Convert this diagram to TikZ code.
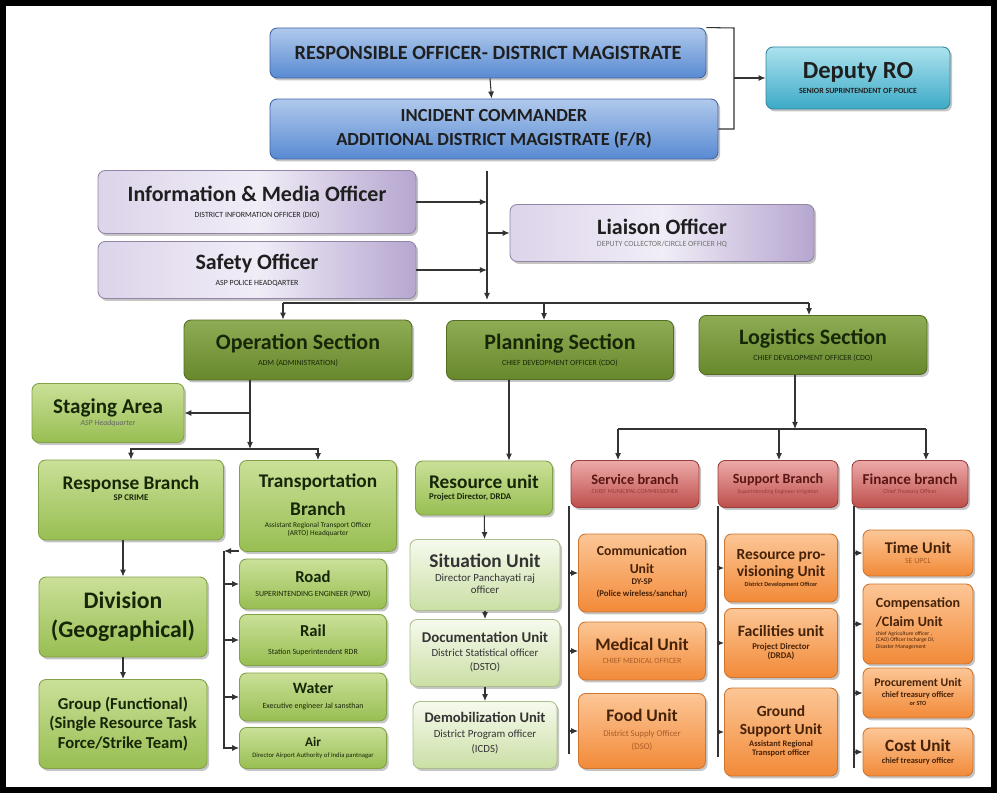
\documentclass[tikz,border=0pt]{standalone}
\usepackage{fontspec}
\setmainfont{Carlito}
\usetikzlibrary{arrows.meta, shadows, calc}
\definecolor{roblue}{RGB}{88,138,210}
\definecolor{roblueL}{RGB}{176,201,236}
\definecolor{roborder}{RGB}{62,100,168}
\definecolor{tealD}{RGB}{60,170,198}
\definecolor{tealL}{RGB}{172,226,238}
\definecolor{lilacD}{RGB}{182,166,208}
\definecolor{lilacL}{RGB}{220,212,234}
\definecolor{lilacM}{RGB}{241,237,247}
\definecolor{sectD}{RGB}{104,136,44}
\definecolor{sectL}{RGB}{142,172,84}
\definecolor{leafD}{RGB}{152,190,82}
\definecolor{leafL}{RGB}{202,224,152}
\definecolor{paleD}{RGB}{202,223,164}
\definecolor{paleL}{RGB}{246,250,238}
\definecolor{redD}{RGB}{190,78,75}
\definecolor{redL}{RGB}{236,170,168}
\definecolor{orgD}{RGB}{242,138,56}
\definecolor{orgL}{RGB}{252,198,150}
\definecolor{txtgreen}{RGB}{24,38,8}
\definecolor{txtred}{RGB}{90,22,20}
\definecolor{txtorg}{RGB}{70,34,8}
\definecolor{subred}{RGB}{150,60,56}
\definecolor{suborg}{RGB}{170,92,40}
\newcommand{\fsz}[2]{\fontsize{#1}{#2}\selectfont}
\newcommand{\subl}[4][c]{{\fontsize{#2}{#3}\selectfont\begin{tabular}[t]{@{}#1@{}}#4\end{tabular}}}

\begin{document}
\begin{tikzpicture}[
  x=0.02cm, y=-0.02cm,
  cbox/.style={rounded corners=4pt, align=center, inner sep=1.5pt, font=\bfseries, text=black!88, line width=0.5pt,
    drop shadow={shadow xshift=1.2pt, shadow yshift=-1.4pt, opacity=0.45}},
  bluebox/.style={cbox, draw=roborder, top color=roblueL, bottom color=roblue},
  tealbox/.style={cbox, draw=tealD!80!black, top color=tealL, bottom color=tealD},
  lilacbox/.style={cbox, draw=lilacD!80!black, left color=lilacL, right color=lilacD, middle color=lilacM},
  sectbox/.style={cbox, draw=sectD!80!black, top color=sectL, bottom color=sectD, text=txtgreen},
  leafbox/.style={cbox, draw=leafD!85!black, top color=leafL, bottom color=leafD, text=txtgreen},
  palebox/.style={cbox, draw=paleD!85!black, top color=paleL, bottom color=paleD, text=black!80},
  redbox/.style={cbox, draw=redD!80!black, top color=redL, bottom color=redD, text=txtred},
  orgbox/.style={cbox, draw=orgD!85!black, top color=orgL, bottom color=orgD, text=txtorg},
  link/.style={draw=black!80, line width=0.6pt},
  arr/.style={link, -{Latex[length=4pt, width=3.4pt]}}
]
  \useasboundingbox (0,0) rectangle (997,793);
  \fill[white] (0,0) rectangle (997,793);
  \draw[line width=0.12cm] (3,3) rectangle (994,790);

  % command
  \node[bluebox, minimum width=8.72cm, minimum height=1cm, font=\bfseries\fsz{11.5}{14}] (ro) at (488,53) {RESPONSIBLE OFFICER- DISTRICT MAGISTRATE};
  \node[bluebox, minimum width=8.96cm, minimum height=1.2cm, font=\bfseries\fsz{10.5}{13.7}] (ic) at (494,129) {INCIDENT COMMANDER\\ADDITIONAL DISTRICT MAGISTRATE (F/R)};
  \node[tealbox, minimum width=3.68cm, minimum height=1.24cm, font=\bfseries\fsz{14}{9}] (dro) at (858,78) {Deputy RO\\{\fsz{4.5}{5}SENIOR SUPRINTENDENT OF POLICE}};

  % staff
  \node[lilacbox, minimum width=6.36cm, minimum height=1.26cm, font=\bfseries\fsz{12.5}{9}] (imo) at (257,202) {Information \& Media Officer\\{\fsz{4.5}{5}\mdseries DISTRICT INFORMATION OFFICER (DIO)}};
  \node[lilacbox, minimum width=6.36cm, minimum height=1.14cm, font=\bfseries\fsz{12.5}{9}] (so) at (257,270) {Safety Officer\\{\fsz{4.5}{5}\mdseries ASP POLICE HEADQARTER}};
  \node[lilacbox, minimum width=6.08cm, minimum height=1.14cm, font=\bfseries\fsz{12.5}{7}] (lo) at (662,233) {Liaison Officer\\{\fsz{4.5}{5}\mdseries\color{black!55}DEPUTY COLLECTOR/CIRCLE OFFICER HQ}};

  % sections
  \node[sectbox, minimum width=4.56cm, minimum height=1.2cm, font=\bfseries\fsz{12.5}{9}] (ops) at (298,350) {Operation Section\\{\fsz{4.5}{5}\mdseries ADM (ADMINISTRATION)}};
  \node[sectbox, minimum width=4.54cm, minimum height=1.18cm, font=\bfseries\fsz{12.5}{9}] (pls) at (560,350) {Planning Section\\{\fsz{4.5}{5}\mdseries CHIEF DEVEOPMENT OFFICER (CDO)}};
  \node[sectbox, minimum width=4.56cm, minimum height=1.18cm, font=\bfseries\fsz{12.5}{9}] (lgs) at (813,345) {Logistics Section\\{\fsz{4.5}{5}\mdseries CHIEF DEVELOPMENT OFFICER (CDO)}};

  % operation section
  \node[leafbox, minimum width=3.04cm, minimum height=1.18cm, font=\bfseries\fsz{12}{7}] (stg) at (108,413) {Staging Area\\{\fsz{4.5}{5}\mdseries\itshape\color{black!60}ASP Headquarter}};
  \node[leafbox, minimum width=3.7cm, minimum height=1.6cm, font=\bfseries\fsz{11}{6.5}] (rsb) at (131,500) {Response Branch\\{\fsz{5}{6}SP CRIME}\\[7pt]\mbox{}};
  \node[leafbox, minimum width=3.14cm, minimum height=1.82cm, font=\bfseries\fsz{11}{16}] (trb) at (318,506) {Transportation\\Branch\\[-9pt]{\mdseries\subl{4.2}{4.6}{Assistant Regional Transport Officer\\(ARTO) Headquarter}}};
  \node[leafbox, minimum width=3.36cm, minimum height=1.6cm, font=\bfseries\fsz{13.5}{16.5}] (div) at (123,617) {Division\\(Geographical)};
  \node[leafbox, minimum width=3.36cm, minimum height=1.78cm, font=\bfseries\fsz{9.5}{11}] (grp) at (123,724) {Group (Functional)\\(Single Resource Task\\Force/Strike Team)};
  \node[leafbox, minimum width=2.94cm, minimum height=1cm, font=\bfseries\fsz{9.5}{8}] (road) at (313,584) {Road\\{\fsz{4.5}{5}\mdseries SUPERINTENDING ENGINEER (PWD)}};
  \node[leafbox, minimum width=2.94cm, minimum height=1.02cm, font=\bfseries\fsz{9.5}{10}] (rail) at (313,640) {Rail\\{\fsz{4.5}{5}\mdseries Station Superintendent RDR}};
  \node[leafbox, minimum width=2.94cm, minimum height=0.96cm, font=\bfseries\fsz{9}{8.5}] (water) at (313,697) {Water\\{\fsz{4.5}{5}\mdseries Executive engineer Jal sansthan}};
  \node[leafbox, minimum width=2.94cm, minimum height=0.82cm, font=\bfseries\fsz{7.5}{6}] (air) at (313,748) {Air\\{\fsz{3.8}{4.5}\mdseries Director Airport Authority of India pantnagar}};

  % planning section
  \node[leafbox, minimum width=2.74cm, minimum height=1.08cm, align=left, font=\bfseries\fsz{11}{6.5}] (resu) at (484,488) {Resource unit\\{\fsz{5}{6}Project Director, DRDA}};
  \node[palebox, minimum width=3cm, minimum height=1.42cm, font=\bfseries\fsz{11}{8.5}] (situ) at (485,575) {Situation Unit\\{\mdseries\subl{6.2}{6.4}{Director Panchayati raj\\officer}}};
  \node[palebox, minimum width=3cm, minimum height=1.34cm, font=\bfseries\fsz{8.5}{8}] (docu) at (485,653) {Documentation Unit\\{\mdseries\subl{6.2}{8}{District Statistical officer\\(DSTO)}}};
  \node[palebox, minimum width=2.88cm, minimum height=1.34cm, font=\bfseries\fsz{8.3}{8.5}] (demo) at (485,735) {Demobilization Unit\\{\mdseries\subl{6.2}{8.5}{District Program officer\\(ICDS)}}};

  % logistics section
  \node[redbox, minimum width=2.56cm, minimum height=0.94cm, font=\bfseries\fsz{8.2}{5.4}] (svb) at (635,484) {Service branch\\{\fsz{3.5}{4}\mdseries\color{subred}CHIEF MUNICIPAL COMMISSIONER}};
  \node[redbox, minimum width=2.4cm, minimum height=0.94cm, font=\bfseries\fsz{8}{5.4}] (spb) at (778,484) {Support Branch\\{\fsz{3.3}{4}\mdseries\color{subred}Superintending Engineer Irrigation}};
  \node[redbox, minimum width=2.32cm, minimum height=0.94cm, font=\bfseries\fsz{8.6}{5.4}] (fnb) at (910,484) {Finance branch\\{\fsz{3.5}{4}\mdseries\color{subred}Chief Treasury Officer}};

  \node[orgbox, minimum width=2.54cm, minimum height=1.56cm, font=\bfseries\fsz{7.8}{10}] (comm) at (642,573) {Communication\\Unit\\[-3.5pt]\subl{5}{6.6}{DY-SP\\(Police wireless/sanchar)}};
  \node[orgbox, minimum width=2.54cm, minimum height=1.16cm, font=\bfseries\fsz{10}{7}] (med) at (642,651) {Medical Unit\\{\fsz{4.5}{5}\mdseries\color{suborg}CHIEF MEDICAL OFFICER}};
  \node[orgbox, minimum width=2.54cm, minimum height=1.5cm, font=\bfseries\fsz{10}{8.5}] (food) at (642,731) {Food Unit\\{\mdseries\color{suborg}\subl{5}{7.2}{District Supply Officer\\(DSO)}}};

  \node[orgbox, minimum width=2.26cm, minimum height=1.36cm, font=\bfseries\fsz{8.8}{9.7}] (rpu) at (781,568) {Resource pro-\\visioning Unit\\[-4pt]{\fsz{3.5}{4}District Development Officer}};
  \node[orgbox, minimum width=2.26cm, minimum height=1.38cm, font=\bfseries\fsz{9}{7.4}] (fac) at (781,643) {Facilities unit\\\subl{5}{5.2}{Project Director\\(DRDA)}};
  \node[orgbox, minimum width=2.26cm, minimum height=1.76cm, font=\bfseries\fsz{8.8}{10.2}] (gsu) at (781,732) {Ground\\Support Unit\\[-3.4pt]\subl{4.8}{5.2}{Assistant Regional\\Transport officer}};

  \node[orgbox, minimum width=2.2cm, minimum height=0.92cm, font=\bfseries\fsz{9.3}{6}] (time) at (918,553) {Time Unit\\{\fsz{4.5}{5}\mdseries\color{suborg}SE UPCL}};
  \node[orgbox, minimum width=2.2cm, minimum height=1.6cm, align=left, font=\bfseries\fsz{8}{10.8}] (comp) at (918,624) {Compensation\\/Claim Unit\\[-6pt]{\mdseries\subl[l]{3.2}{3.6}{chief Agriculture officer ,\\(CAO) Officer Incharge DI,\\Disaster Management}}};
  \node[orgbox, minimum width=2.2cm, minimum height=1.0cm, font=\bfseries\fsz{6.7}{6.3}] (proc) at (918,693) {Procurement Unit\\\subl{4.8}{4.2}{chief treasury officer\\{\fsz{3.5}{4}or STO}}};
  \node[orgbox, minimum width=2.2cm, minimum height=0.96cm, font=\bfseries\fsz{9.8}{7}] (cost) at (918,752) {Cost Unit\\{\fsz{4.8}{5}chief treasury officer}};

  % command links
  \draw[arr] (ro) -- (ic);
  \coordinate (brk) at (734,28);
  \draw[link] (ro.north east) -- (brk) |- (ic.east);
  \draw[arr] (brk |- dro.west) -- (dro.west);

  % staff spine
  \coordinate (stt) at (487,171);
  \coordinate (stb) at (487,300);
  \draw[arr] (stt) -- (stb);
  \draw[arr] (imo.east) -- (imo.east -| stt);
  \draw[arr] (so.east) -- (so.east -| stt);
  \draw[arr] (stt |- lo.west) -- (lo.west);

  \coordinate (hl) at (283,303);
  \coordinate (hm) at (544,303);
  \coordinate (hr) at (809,303);
  \draw[link] (hl) -- (hr);
  \draw[arr] (hl) -- (hl |- ops.north);
  \draw[arr] (hm) -- (hm |- pls.north);
  \draw[arr] (hr) -- (hr |- lgs.north);

  % operation links
  \coordinate (opj) at (250,449);
  \draw[arr] (opj |- ops.south) -- (opj);
  \draw[arr] (opj |- stg.east) -- (stg.east);
  \draw[arr] (opj) -| (rsb.north);
  \draw[arr] (opj) -| (trb.north);
  \draw[arr] (rsb.south -| div.north) -- (div.north);
  \draw[arr] (div) -- (grp);
  \coordinate (tsp) at (224,551);
  \draw[arr] (tsp -| trb.west) -- (tsp);
  \draw[arr] (tsp) |- (air.west);
  \foreach \u in {road, rail, water}
    \draw[arr] (tsp |- \u.west) -- (\u.west);

  % planning links
  \coordinate (plj) at (509,380);
  \draw[arr] (plj) -- (plj |- resu.north);
  \draw[arr] (resu) -- (situ);
  \draw[arr] (situ) -- (docu);
  \draw[arr] (docu) -- (demo);

  % logistics links
  \coordinate (lgj) at (795,429);
  \coordinate (lgl) at (618,429);
  \coordinate (lgm) at (779,429);
  \coordinate (lgr) at (926,429);
  \draw[arr] (lgj |- lgs.south) -- (lgj);
  \draw[link] (lgl) -- (lgr);
  \draw[arr] (lgl) -- (lgl |- svb.north);
  \draw[arr] (lgm) -- (lgm |- spb.north);
  \draw[arr] (lgr) -- (lgr |- fnb.north);

  \coordinate (svs) at (569,506);
  \coordinate (sve) at (569,754);
  \draw[link] (svs) -- (sve);
  \foreach \u in {comm, med, food}
    \draw[arr] (svs |- \u.west) -- (\u.west);
  \coordinate (sps) at (718,506);
  \coordinate (spe) at (718,757);
  \draw[link] (sps) -- (spe);
  \foreach \u in {rpu, fac, gsu}
    \draw[arr] (sps |- \u.west) -- (\u.west);
  \coordinate (fns) at (854,506);
  \coordinate (fne) at (854,768);
  \draw[link] (fns) -- (fne);
  \foreach \u in {time, comp, proc, cost}
    \draw[arr] (fns |- \u.west) -- (\u.west);
\end{tikzpicture}
\end{document}
